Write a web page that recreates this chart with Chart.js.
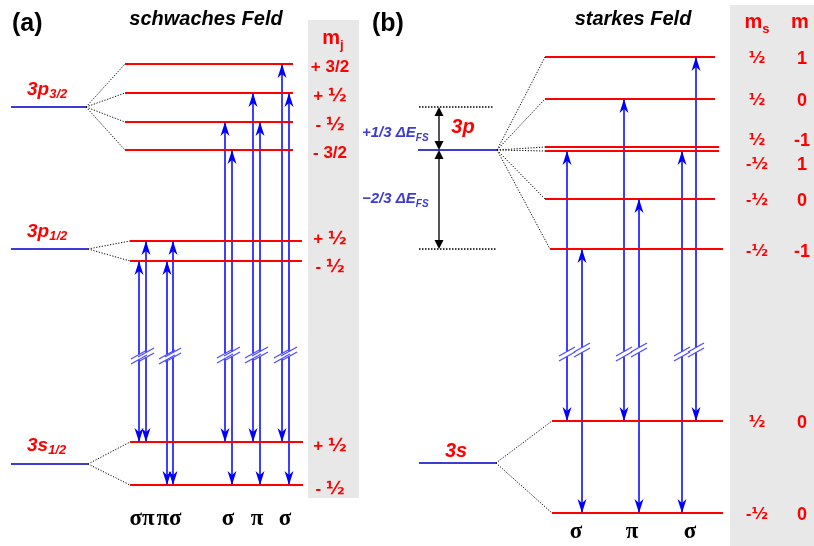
<!DOCTYPE html>
<html>
<head>
<meta charset="utf-8">
<script src="https://cdn.jsdelivr.net/npm/chart.js@4.4.1/dist/chart.umd.min.js"></script>
<style>
  html, body { margin: 0; padding: 0; background: #fff; }
  #wrap { width: 814px; height: 546px; }
</style>
</head>
<body>
<div id="wrap"><canvas id="levels" width="814" height="546"></canvas></div>
<script>
// ---- (a) schwaches Feld: sublevel energies (screen units, larger = lower) ----
const weakLevelsP32 = [64, 93, 122, 150];
const weakLevelsP12 = [241, 261];
const weakLevelsS12 = [442, 485];
const weakParents = [107, 249, 464];          // 3p3/2, 3p1/2, 3s1/2
const weakMjP32 = ['+ 3/2', '+ ½', '- ½', '- 3/2'];
const weakMjP12 = ['+ ½', '- ½'];
const weakMjS12 = ['+ ½', '- ½'];
// transitions upper -> lower
const weakFrom = [261, 241, 261, 241, 122, 150, 93, 122, 64, 93];
const weakTo   = [442, 442, 485, 485, 442, 485, 442, 485, 442, 485];
const weakPolar = ['σπ', 'πσ', 'σ', 'π', 'σ'];

// ---- (b) starkes Feld ----
const strongLevelsP = [57, 99, 147, 151, 199, 249];
const strongLevelsS = [421, 513];
const strongParents = [150, 463];             // 3p, 3s
const strongMs = ['½', '½', '½', '-½', '-½', '-½', '½', '-½'];
const strongM  = ['1', '0', '-1', '1', '0', '-1', '0', '0'];
const strongFrom = [151, 249, 99, 199, 151, 57];
const strongTo   = [421, 513, 421, 513, 513, 421];
const strongPolar = ['σ', 'π', 'σ'];
const fsMarks = [107, 150, 249];              // +1/3 and -2/3 fine structure

// layout only
const weakArrowX = [139, 146, 167, 173, 225, 232, 253, 260, 282, 289];
const weakBreakY = [357, 355, 357, 355, 356, 354, 356, 354, 356, 354];
const strongArrowX = [567, 582, 624, 639, 682, 696];
const strongBreakY = [354, 350, 354, 350, 354, 350];

const RED = '#ff0000';
const BLUE = '#3c3cd2';
const ARROW = '#0000ff';
const SANS = '"Liberation Sans", Arial, sans-serif';
const HALF = '"DejaVu Sans", sans-serif';
const SERIF = '"Liberation Serif", "Times New Roman", serif';

const datasets = [];
function seg(x1, y1, x2, y2, color, width, dash) {
    datasets.push({
        data: [{ x: x1, y: y1 }, { x: x2, y: y2 }],
        borderColor: color,
        borderWidth: width,
        borderDash: dash || [],
        showLine: true,
        pointRadius: 0,
        fill: false
    });
}
const DOT = [1.2, 1.6];

// (a) levels
seg(11, weakParents[0], 86, weakParents[0], BLUE, 2);
weakLevelsP32.forEach(y => {
    seg(86, weakParents[0], 125, y, '#000', 1, DOT);
    seg(125, y, 293, y, RED, 2);
});
seg(11, weakParents[1], 88, weakParents[1], BLUE, 2);
weakLevelsP12.forEach(y => {
    seg(88, weakParents[1], 130, y, '#000', 1, DOT);
    seg(130, y, 302, y, RED, 2);
});
seg(11, weakParents[2], 88, weakParents[2], BLUE, 2);
weakLevelsS12.forEach(y => {
    seg(88, weakParents[2], 130, y, '#000', 1, DOT);
    seg(130, y, 303, y, RED, 2);
});

// (b) levels
seg(418, strongParents[0], 497, strongParents[0], BLUE, 2);
strongLevelsP.forEach((y, i) => {
    const x0 = i === 5 ? 550 : 545;
    const x1 = i === 5 ? 723 : (i === 2 || i === 3 ? 719 : 715);
    seg(497, strongParents[0], x0, y, '#000', 1, DOT);
    seg(x0, y, x1, y, RED, 2);
});
seg(419, strongParents[1], 496, strongParents[1], BLUE, 2);
strongLevelsS.forEach(y => {
    seg(496, strongParents[1], 552, y, '#000', 1, DOT);
    seg(552, y, 723, y, RED, 2);
});
// fine-structure reference lines
seg(419, fsMarks[0], 493, fsMarks[0], '#000', 1.4, [1.5, 1.5]);
seg(419, fsMarks[2], 496, fsMarks[2], '#000', 1.4, [1.5, 1.5]);
seg(439, fsMarks[0] + 6, 439, fsMarks[1] - 6, '#555', 2);
seg(439, fsMarks[1] + 6, 439, fsMarks[2] - 6, '#555', 2);

// transition arrows (broken in the middle)
function transitions(xs, from, to, breaks) {
    xs.forEach((x, i) => {
        seg(x, from[i], x, breaks[i] - 2.5, ARROW, 1.5);
        seg(x, breaks[i] + 2.5, x, to[i], ARROW, 1.5);
    });
}
transitions(weakArrowX, weakFrom, weakTo, weakBreakY);
transitions(strongArrowX, strongFrom, strongTo, strongBreakY);

function head(ctx, x, y, dir, len, hw, notch, color) {
    // dir -1: pointing up, +1: pointing down
    ctx.fillStyle = color;
    ctx.beginPath();
    ctx.moveTo(x, y);
    ctx.lineTo(x - hw, y - dir * len);
    ctx.lineTo(x, y - dir * (len - notch));
    ctx.lineTo(x + hw, y - dir * len);
    ctx.closePath();
    ctx.fill();
}

function rich(ctx, parts, x, y, align) {
    let w = 0;
    parts.forEach(p => { ctx.font = p[1]; w += ctx.measureText(p[0]).width; });
    let cx = align === 'center' ? x - w / 2 : (align === 'right' ? x - w : x);
    parts.forEach(p => {
        ctx.font = p[1];
        ctx.fillStyle = p[2];
        ctx.fillText(p[0], cx, y + (p[3] || 0));
        cx += ctx.measureText(p[0]).width;
    });
}

// split a label so the "½" glyph uses a font with a larger fraction
function withHalf(text, font, halfFont, color) {
    return text.split(/(½)/).filter(s => s).map(s => [s, s === '½' ? halfFont : font, color]);
}

const backdrop = {
    id: 'backdrop',
    beforeDatasetsDraw(chart) {
        const { ctx, scales: { x, y } } = chart;
        ctx.save();
        ctx.fillStyle = '#e8e8e8';
        ctx.fillRect(x.getPixelForValue(308), y.getPixelForValue(20),
            x.getPixelForValue(359) - x.getPixelForValue(308), y.getPixelForValue(498) - y.getPixelForValue(20));
        ctx.fillRect(x.getPixelForValue(730), y.getPixelForValue(5),
            x.getPixelForValue(814) - x.getPixelForValue(730), y.getPixelForValue(546) - y.getPixelForValue(5));
        ctx.restore();
    }
};

const annotate = {
    id: 'annotate',
    afterDatasetsDraw(chart) {
        const { ctx, scales: { x, y } } = chart;
        const px = v => x.getPixelForValue(v);
        const py = v => y.getPixelForValue(v);
        ctx.save();

        // arrow heads and break marks
        const drawTrans = (xs, from, to, breaks) => {
            xs.forEach((xv, i) => {
                head(ctx, px(xv), py(from[i]), -1, 14, 4.5, 4, ARROW);
                head(ctx, px(xv), py(to[i]), 1, 14, 4.5, 4, ARROW);
                ctx.strokeStyle = '#4a4aff';
                ctx.lineWidth = 1.2;
                [-2.5, 2.5].forEach(d => {
                    ctx.beginPath();
                    ctx.moveTo(px(xv - 8), py(breaks[i] + d + 4.5));
                    ctx.lineTo(px(xv + 8), py(breaks[i] + d - 4.5));
                    ctx.stroke();
                });
            });
        };
        drawTrans(weakArrowX, weakFrom, weakTo, weakBreakY);
        drawTrans(strongArrowX, strongFrom, strongTo, strongBreakY);

        // fine structure arrows
        ctx.fillStyle = '#000';
        const tri = (xv, yv, dir) => {
            ctx.beginPath();
            ctx.moveTo(px(xv), py(yv));
            ctx.lineTo(px(xv - 4.5), py(yv - dir * 9));
            ctx.lineTo(px(xv + 4.5), py(yv - dir * 9));
            ctx.closePath();
            ctx.fill();
        };
        tri(439, fsMarks[0], -1);
        tri(439, fsMarks[1], 1);
        tri(439, fsMarks[1], -1);
        tri(439, fsMarks[2], 1);

        ctx.textBaseline = 'alphabetic';
        ctx.textAlign = 'left';

        // titles
        rich(ctx, [['(a)', 'bold 25px ' + SANS, '#000']], px(12), py(31), 'left');
        rich(ctx, [['(b)', 'bold 25px ' + SANS, '#000']], px(372), py(31), 'left');
        rich(ctx, [['schwaches Feld', 'italic bold 20px ' + SANS, '#000']], px(206), py(25), 'center');
        rich(ctx, [['starkes Feld', 'italic bold 20px ' + SANS, '#000']], px(633), py(25), 'center');

        // column headers
        const hdr = 'bold 20px ' + SANS, sub = 'bold 13px ' + SANS;
        rich(ctx, [['m', hdr, RED], ['j', sub, RED, 5]], px(333), py(44), 'center');
        rich(ctx, [['m', hdr, RED], ['s', sub, RED, 5]], px(757), py(28), 'center');
        rich(ctx, [['m', hdr, RED]], px(800), py(28), 'center');

        // term labels
        const big = 'italic bold 19px ' + SANS, small = 'italic bold 13px ' + SANS;
        rich(ctx, [['3p', big, RED], ['3/2', small, RED, 3]], px(27), py(95), 'left');
        rich(ctx, [['3p', big, RED], ['1/2', small, RED, 3]], px(27), py(237), 'left');
        rich(ctx, [['3s', big, RED], ['1/2', small, RED, 3]], px(27), py(451), 'left');
        rich(ctx, [['3p', 'italic bold 20px ' + SANS, RED]], px(463), py(133), 'center');
        rich(ctx, [['3s', 'italic bold 20px ' + SANS, RED]], px(456), py(457), 'center');

        const fs = 'italic bold 15px ' + SANS, fsSub = 'italic bold 10px ' + SANS;
        rich(ctx, [['+1/3 ΔE', fs, BLUE], ['FS', fsSub, BLUE, 4]], px(362), py(137), 'left');
        rich(ctx, [['\u22122/3 ΔE', fs, BLUE], ['FS', fsSub, BLUE, 4]], px(362), py(203), 'left');

        // m_j values (a)
        const mj = 'bold 17px ' + SANS, mjHalf = 'bold 18px ' + HALF;
        weakLevelsP32.forEach((v, i) => rich(ctx, withHalf(weakMjP32[i], mj, mjHalf, RED), px(330), py(v + 8), 'center'));
        [238, 266].forEach((v, i) => rich(ctx, withHalf(weakMjP12[i], mj, mjHalf, RED), px(330), py(v + 6), 'center'));
        weakLevelsS12.forEach((v, i) => rich(ctx, withHalf(weakMjS12[i], mj, mjHalf, RED), px(330), py(v + 9), 'center'));

        // m_s, m values (b)
        const rowY = [57, 99, 139, 163, 199, 250, 421, 513];
        rowY.forEach((v, i) => {
            rich(ctx, withHalf(strongMs[i], 'bold 16px ' + SANS, 'bold 16px ' + HALF, RED), px(757), py(v + 6), 'center');
            rich(ctx, [[strongM[i], 'bold 18px ' + SANS, RED]], px(802), py(v + 7), 'center');
        });

        // polarisation labels
        const gr = 'bold 23px ' + SERIF;
        [142, 169, 228, 257, 285].forEach((xv, i) => rich(ctx, [[weakPolar[i], gr, '#000']], px(xv), py(525), 'center'));
        [576, 632, 690].forEach((xv, i) => rich(ctx, [[strongPolar[i], gr, '#000']], px(xv), py(538), 'center'));

        ctx.restore();
    }
};

new Chart(document.getElementById('levels').getContext('2d'), {
    type: 'scatter',
    data: { datasets },
    options: {
        responsive: false,
        animation: false,
        devicePixelRatio: 1,
        events: [],
        layout: { padding: 0 },
        plugins: { legend: { display: false }, tooltip: { enabled: false } },
        scales: {
            x: { type: 'linear', min: 0, max: 814, display: false },
            y: { type: 'linear', min: 0, max: 546, reverse: true, display: false }
        }
    },
    plugins: [backdrop, annotate]
});
</script>
</body>
</html>
